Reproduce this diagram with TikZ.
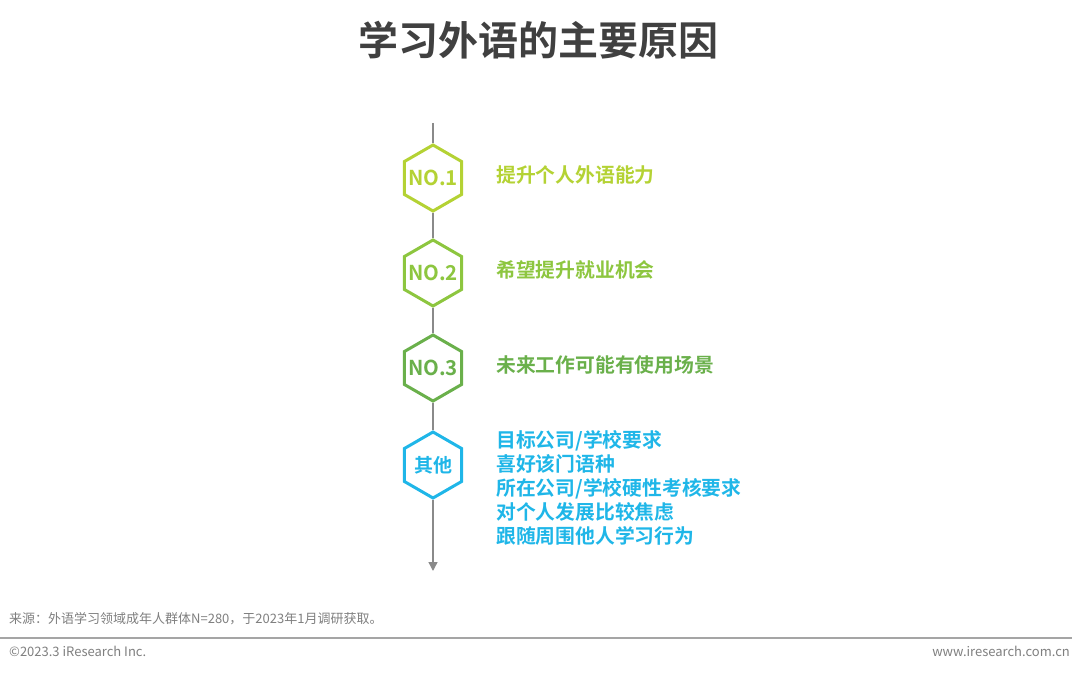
\documentclass[tikz,border=0pt]{standalone}
\usepackage{fontspec}
\setmainfont{Noto Sans CJK SC}
\newfontfamily\cjkbold{Noto Sans CJK SC Bold}
\usepackage{xcolor}
\usetikzlibrary{positioning,shapes.geometric,arrows.meta}

\definecolor{titlegray}{HTML}{404040}
\definecolor{footgray}{HTML}{7F7F7F}
\definecolor{spinegray}{HTML}{8A8A8A}
\definecolor{rankone}{HTML}{B4D234}
\definecolor{ranktwo}{HTML}{8DC63F}
\definecolor{rankthree}{HTML}{6AB04B}
\definecolor{rankother}{HTML}{1FB6E8}

\begin{document}
\begin{tikzpicture}[
    x=1pt,
    y=-1pt,
    hexa/.style={
        regular polygon,
        regular polygon sides=6,
        shape border rotate=30,
        minimum size=66pt,
        inner sep=0pt,
        line width=3pt,
        fill=white,
        label={[text=#1, font=\cjkbold\fontsize{20.5}{22}\selectfont]center:\hexatext}
    },
    reason/.style={
        anchor=west,
        align=left,
        inner sep=0pt,
        font=\cjkbold\fontsize{19.8}{24}\selectfont
    },
    spine/.style={draw=spinegray, line width=1.4pt},
    foot/.style={inner sep=0pt, text=footgray, font=\fontsize{13}{15}\selectfont}
]
\useasboundingbox (0,0) rectangle (1080,674);

% title
\node[text=titlegray, font=\cjkbold\fontsize{40}{46}\selectfont] (title) at (538,40) {学习外语的主要原因};

% timeline
\coordinate (top) at (433,123);
\coordinate (bottom) at (433,571);

\def\hexatext{NO.1}
\node[hexa=rankone, draw=rankone] (h1) at (433,178) {};
\def\hexatext{NO.2}
\node[hexa=ranktwo, draw=ranktwo] (h2) at (433,273) {};
\def\hexatext{NO.3}
\node[hexa=rankthree, draw=rankthree] (h3) at (433,368) {};
\def\hexatext{\fontsize{19}{22}\selectfont 其他}
\node[hexa=rankother, draw=rankother] (h4) at (433,465) {};

\draw[spine] (top) -- (h1);
\draw[spine] (h1) -- (h2);
\draw[spine] (h2) -- (h3);
\draw[spine] (h3) -- (h4);
\draw[spine, -{Triangle[length=9pt,width=9pt]}] (h4) -- (bottom);

% reasons
\node[reason, text=rankone] (r1) at (496,175) {提升个人外语能力};
\node[reason, text=ranktwo] (r2) at (496,270) {希望提升就业机会};
\node[reason, text=rankthree] (r3) at (496,365) {未来工作可能有使用场景};
\node[reason, text=rankother] (r4) at (496,488) {目标公司/学校要求\\喜好该门语种\\所在公司/学校硬性考核要求\\对个人发展比较焦虑\\跟随周围他人学习行为};

% footer
\node[foot, anchor=west] (source) at (9,619) {来源：外语学习领域成年人群体N=280，于2023年1月调研获取。};
\coordinate (ruleleft) at (0,638);
\coordinate (ruleright) at (1072,638);
\draw[draw=footgray!70, line width=1.2pt] (ruleleft) -- (ruleright);
\node[foot, anchor=west] (copy) at (9,651) {©2023.3 iResearch Inc.};
\node[foot, anchor=east] (web) at (1070,651) {www.iresearch.com.cn};

\end{tikzpicture}
\end{document}
